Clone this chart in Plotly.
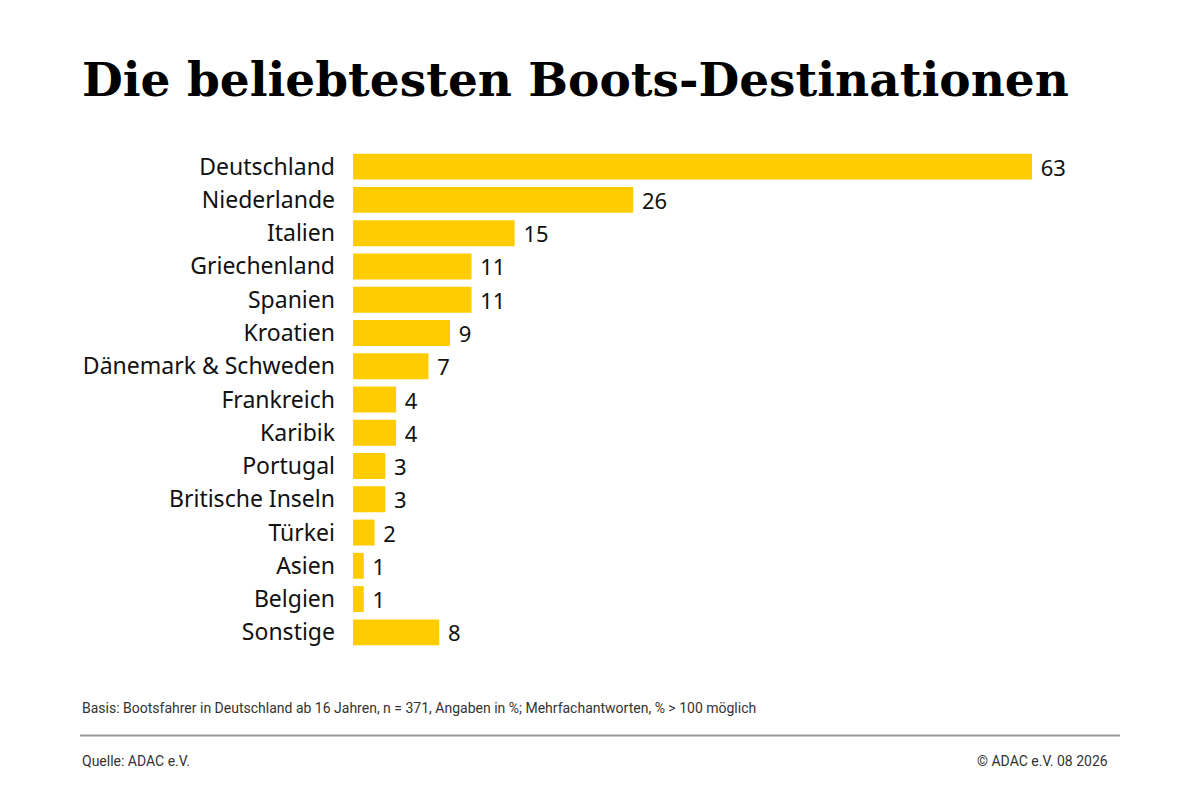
import plotly.graph_objects as go

# Daten
laender = ['Deutschland', 'Niederlande', 'Italien', 'Griechenland', 'Spanien',
           'Kroatien', 'Dänemark & Schweden', 'Frankreich', 'Karibik', 'Portugal',
           'Britische Inseln', 'Türkei', 'Asien', 'Belgien', 'Sonstige']
anteile = [63, 26, 15, 11, 11, 9, 7, 4, 4, 3, 3, 2, 1, 1, 8]

titel = 'Die beliebtesten Boots-Destinationen'
basis = 'Basis: Bootsfahrer in Deutschland ab 16 Jahren, n = 371, Angaben in %; Mehrfachantworten, % > 100 möglich'
quelle = 'Quelle: ADAC e.V.'
copyright_text = '© ADAC e.V. 08 2026'

# Plotbereich in Pixeln (Seite hat 8px Rand)
L, R, T, B = 345, 88, 142.4, 159.4
PW, PH = 1200 - L - R, 800 - T - B


def px_x(x):
    return (x - L) / PW


def px_y(y):
    return (800 - B - y) / PH


fig = go.Figure(go.Bar(
    x=anteile, y=laender, orientation='h',
    marker=dict(color='#FFCC00', line=dict(width=0)),
    width=0.78,
    text=anteile, texttemplate=' %{x}', textposition='outside',
    constraintext='none',
    textfont=dict(family='Noto Sans', size=22, color='#111'),
    cliponaxis=False,
))

fig.update_layout(
    width=1200, height=800,
    margin=dict(l=L, r=R, t=T, b=B),
    paper_bgcolor='white', plot_bgcolor='white',
    showlegend=False,
)
fig.update_xaxes(range=[0, PW / (679 / 63)], visible=False)
fig.update_yaxes(autorange='reversed', showgrid=False, showline=False, zeroline=False,
                 ticks='', ticklabelstandoff=17,
                 tickfont=dict(family='Noto Sans', size=23, color='#111'))

# Titel und Fußzeilen
fig.add_annotation(text='<b>' + titel + '</b>', xref='paper', yref='paper',
                   x=px_x(72), y=px_y(72), xanchor='left', yanchor='middle',
                   showarrow=False, font=dict(family='DejaVu Serif', size=47, color='#000'))
fig.add_annotation(text=basis, xref='paper', yref='paper',
                   x=px_x(72), y=px_y(700), xanchor='left', yanchor='middle',
                   showarrow=False, font=dict(family='Roboto', size=14, color='#333'))
fig.add_annotation(text=quelle, xref='paper', yref='paper',
                   x=px_x(72), y=px_y(752), xanchor='left', yanchor='middle',
                   showarrow=False, font=dict(family='Roboto', size=14, color='#333'))
fig.add_annotation(text=copyright_text, xref='paper', yref='paper',
                   x=px_x(1102), y=px_y(752), xanchor='right', yanchor='middle',
                   showarrow=False, font=dict(family='Roboto', size=14, color='#333'))
fig.add_shape(type='line', xref='paper', yref='paper',
              x0=px_x(72), x1=px_x(1112), y0=px_y(727), y1=px_y(727),
              line=dict(color='#999', width=2))

fig.write_html('out.html')
